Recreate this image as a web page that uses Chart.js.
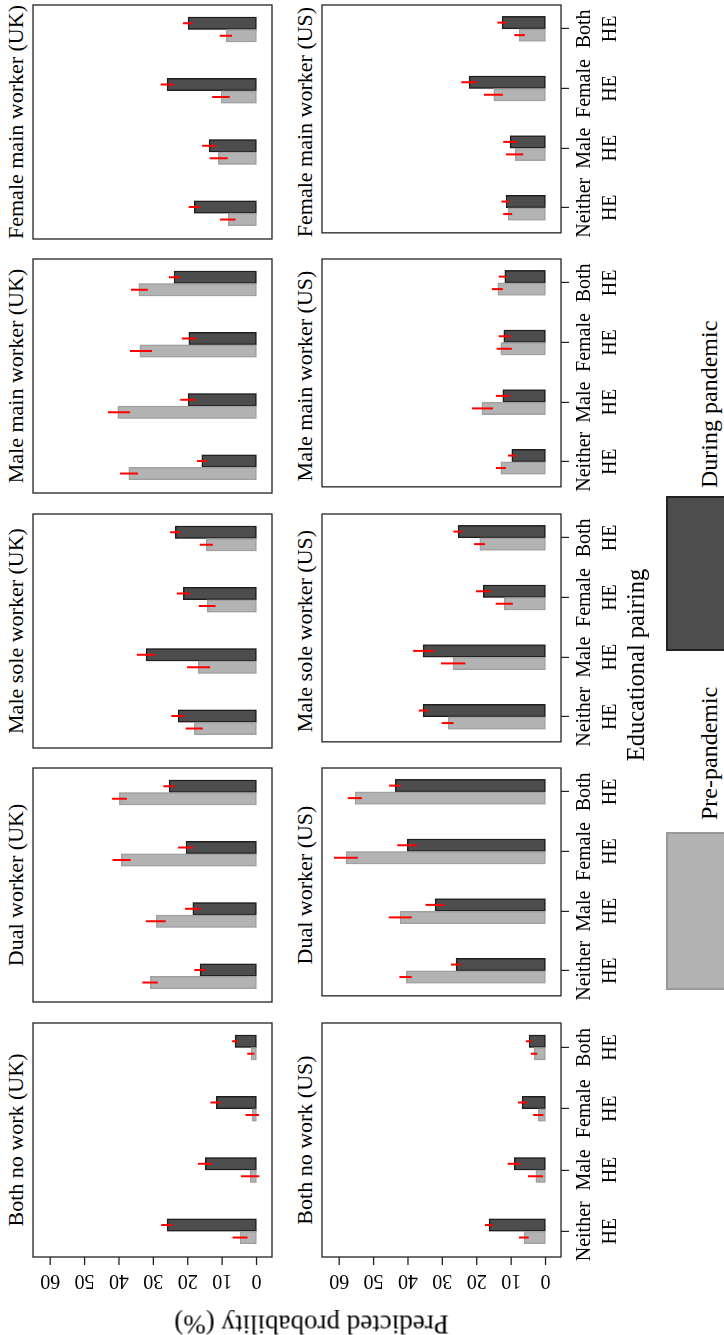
<!DOCTYPE html>
<html>
<head>
<meta charset="utf-8">
<script src="https://cdn.jsdelivr.net/npm/chart.js@4.4.1/dist/chart.umd.min.js"></script>
<style>
  html, body { margin: 0; padding: 0; background: #fff; }
  body { width: 724px; height: 1335px; overflow: hidden; position: relative; }
  /* the figure is laid out landscape and turned a quarter turn, like the source */
  #fig {
    position: absolute; left: 0; top: 0; width: 1335px; height: 724px;
    transform-origin: 0 0; transform: translate(0, 1335px) rotate(-90deg);
    font-family: 'Liberation Serif', 'Times New Roman', serif; color: #000;
  }
  #fig canvas { position: absolute; }
  .title { position: absolute; width: 300px; text-align: center; font-size: 22px; line-height: 22px; white-space: nowrap; }
  .lab { position: absolute; white-space: nowrap; }
  .key { position: absolute; box-sizing: border-box; }
</style>
</head>
<body>
<div id="fig"></div>
<script>
const categories = [['Neither', 'HE'], ['Male', 'HE'], ['Female', 'HE'], ['Both', 'HE']];
const panels = ['Both no work', 'Dual worker', 'Male sole worker', 'Male main worker', 'Female main worker'];
const countries = ['UK', 'US'];
const valueTicks = [0, 10, 20, 30, 40, 50, 60];
const seriesNames = ['Pre-pandemic', 'During pandemic'];

// one row per panel, columns = Neither / Male / Female / Both HE
const ukPre = [
  [4.8, 1.8, 1.3, 1.6],
  [30.9, 29.1, 39.3, 39.9],
  [18.1, 16.9, 14.3, 14.6],
  [37.1, 40.3, 33.9, 34.2],
  [8.2, 11.1, 10.3, 8.8]
];
const ukPreLo = [
  [2.6, -0.8, -0.7, 0.6],
  [28.7, 26.4, 36.6, 37.7],
  [15.6, 13.5, 11.9, 12.7],
  [34.5, 36.8, 30.4, 31.6],
  [6.1, 8.4, 7.8, 7.1]
];
const ukPreHi = [
  [7.0, 4.5, 3.2, 2.7],
  [33.2, 32.2, 41.9, 42.0],
  [20.6, 20.2, 16.8, 16.5],
  [39.7, 43.2, 36.8, 36.5],
  [10.6, 13.6, 12.9, 10.7]
];
const ukDuring = [
  [26.0, 14.9, 11.7, 6.2],
  [16.4, 18.5, 20.5, 25.4],
  [22.8, 32.1, 21.3, 23.6],
  [15.9, 19.9, 19.7, 24.0],
  [18.1, 13.8, 26.0, 19.9]
];
const ukDuringLo = [
  [24.4, 13.0, 10.5, 5.5],
  [14.7, 16.3, 18.4, 23.8],
  [20.9, 29.5, 19.4, 22.2],
  [14.4, 17.9, 17.6, 22.3],
  [16.5, 11.8, 24.0, 18.6]
];
const ukDuringHi = [
  [27.7, 17.0, 13.4, 7.1],
  [18.1, 20.8, 22.8, 27.1],
  [24.8, 34.8, 23.2, 25.1],
  [17.3, 22.2, 21.7, 25.5],
  [19.7, 15.8, 27.9, 21.4]
];
const usPre = [
  [6.2, 2.8, 2.1, 3.3],
  [40.5, 42.3, 58.0, 55.4],
  [28.3, 26.9, 12.0, 19.1],
  [13.0, 18.5, 13.0, 13.9],
  [10.9, 8.8, 15.0, 7.7]
];
const usPreLo = [
  [4.9, 0.7, 0.6, 2.4],
  [38.9, 38.9, 54.6, 53.4],
  [26.7, 23.3, 9.5, 17.6],
  [11.5, 15.3, 9.8, 12.4],
  [9.7, 6.5, 12.4, 6.0]
];
const usPreHi = [
  [7.7, 5.1, 3.6, 4.3],
  [42.5, 45.6, 61.5, 57.5],
  [30.2, 30.4, 14.5, 20.8],
  [14.4, 21.4, 14.2, 15.6],
  [12.3, 11.5, 17.9, 9.1]
];
const usDuring = [
  [16.4, 9.1, 6.8, 4.8],
  [26.0, 32.1, 40.2, 43.7],
  [35.6, 35.6, 18.1, 25.4],
  [9.8, 12.4, 12.1, 11.8],
  [11.5, 10.3, 22.2, 12.6]
];
const usDuringLo = [
  [15.4, 7.3, 5.3, 4.1],
  [24.6, 29.4, 37.4, 42.1],
  [34.1, 32.5, 16.0, 24.2],
  [8.6, 10.4, 10.1, 11.2],
  [10.6, 8.3, 20.0, 11.3]
];
const usDuringHi = [
  [17.6, 11.0, 8.0, 5.7],
  [27.5, 34.9, 43.1, 45.5],
  [36.9, 38.5, 20.2, 26.8],
  [10.9, 14.4, 13.6, 13.6],
  [12.8, 12.3, 24.5, 14.0]
];

const preFill = '#b3b3b3', preLine = '#a0a0a0';
const durFill = '#4d4d4d', durLine = '#1e1e1e';
const serif = "'Liberation Serif', 'Times New Roman', serif";

// panel boxes in the landscape frame
const boxLeft = [78, 333, 587, 842, 1096];
const boxTop = [33, 322];
const boxW = 234, boxH = 239;
const axisH = 72;

const fig = document.getElementById('fig');

const panelDecor = {
  id: 'panelDecor',
  afterDatasetsDraw(chart, args, opts) {
    const { ctx, chartArea: a, scales: { y } } = chart;
    ctx.save();
    // confidence intervals
    ctx.strokeStyle = '#ff0000';
    ctx.lineWidth = 2;
    chart.data.datasets.forEach((ds, di) => {
      chart.getDatasetMeta(di).data.forEach((bar, i) => {
        ctx.beginPath();
        ctx.moveTo(bar.x, y.getPixelForValue(ds.lo[i]));
        ctx.lineTo(bar.x, y.getPixelForValue(ds.hi[i]));
        ctx.stroke();
      });
    });
    // box
    ctx.strokeStyle = '#222';
    ctx.lineWidth = 1.3;
    ctx.strokeRect(a.left, a.top, a.width, a.height);
    // value axis with turned labels, only on first column
    if (opts.valueAxis) {
      ctx.fillStyle = '#000';
      ctx.font = '20px ' + serif;
      ctx.textAlign = 'center';
      ctx.textBaseline = 'alphabetic';
      valueTicks.forEach(v => {
        const py = y.getPixelForValue(v);
        ctx.beginPath();
        ctx.moveTo(a.left, py);
        ctx.lineTo(a.left - 8, py);
        ctx.stroke();
        ctx.save();
        ctx.translate(a.left - 18, py);
        ctx.rotate(-Math.PI / 2);
        ctx.fillText(String(v), 0, 0);
        ctx.restore();
      });
    }
    ctx.restore();
  }
};

countries.forEach((country, r) => {
  const pre = r === 0 ? ukPre : usPre;
  const preLo = r === 0 ? ukPreLo : usPreLo;
  const preHi = r === 0 ? ukPreHi : usPreHi;
  const dur = r === 0 ? ukDuring : usDuring;
  const durLo = r === 0 ? ukDuringLo : usDuringLo;
  const durHi = r === 0 ? ukDuringHi : usDuringHi;

  panels.forEach((name, c) => {
    const padL = c === 0 ? boxLeft[0] : 2;
    const bottomH = r === 1 ? axisH : 2;
    const canvas = document.createElement('canvas');
    canvas.width = padL + boxW + 2;
    canvas.height = 2 + boxH + bottomH;
    canvas.style.left = (boxLeft[c] - padL) + 'px';
    canvas.style.top = (boxTop[r] - 2) + 'px';
    fig.appendChild(canvas);

    const title = document.createElement('div');
    title.className = 'title';
    title.textContent = name + ' (' + country + ')';
    title.style.left = (boxLeft[c] + boxW / 2 - 150) + 'px';
    title.style.top = (boxTop[r] - 28.5) + 'px';
    fig.appendChild(title);

    new Chart(canvas, {
      type: 'bar',
      data: {
        datasets: [
          {
            label: seriesNames[0],
            data: pre[c].map((v, i) => ({ x: i, y: v })),
            lo: preLo[c], hi: preHi[c],
            backgroundColor: preFill, borderColor: preLine
          },
          {
            label: seriesNames[1],
            data: dur[c].map((v, i) => ({ x: i, y: v })),
            lo: durLo[c], hi: durHi[c],
            backgroundColor: durFill, borderColor: durLine
          }
        ]
      },
      options: {
        responsive: false,
        animation: false,
        events: [],
        layout: { autoPadding: false, padding: { left: padL, right: 2, top: 2, bottom: r === 1 ? 0 : 2 } },
        datasets: { bar: { barThickness: 12.5, borderWidth: 1.5, borderSkipped: false, grouped: true } },
        scales: {
          x: {
            type: 'linear',
            min: -0.42, max: 3.40,
            offset: false,
            display: r === 1,
            afterBuildTicks: s => { s.ticks = categories.map((_, i) => ({ value: i })); },
            afterFit: s => { s.height = r === 1 ? axisH : 0; },
            ticks: {
              autoSkip: false, maxRotation: 0, padding: 3, color: '#000',
              font: { family: serif, size: 20, lineHeight: 1.3 },
              callback: v => categories[v]
            },
            grid: { drawOnChartArea: false, drawTicks: true, tickLength: 8, color: '#222', lineWidth: 1.2, offset: false },
            border: { display: false }
          },
          y: {
            min: -4.5, max: 65,
            display: false,
            afterBuildTicks: s => { s.ticks = valueTicks.map(v => ({ value: v })); },
            afterFit: s => { s.width = 0; }
          }
        },
        plugins: {
          legend: { display: false },
          tooltip: { enabled: false },
          panelDecor: { valueAxis: c === 0 }
        }
      },
      plugins: [panelDecor]
    });
  });
});

// axis titles
const yTitle = document.createElement('div');
yTitle.className = 'lab';
yTitle.textContent = 'Predicted probability (%)';
Object.assign(yTitle.style, {
  fontSize: '27px', lineHeight: '27px', width: '400px', textAlign: 'center',
  left: (11 - 200) + 'px', top: (311 - 13.5) + 'px', transform: 'rotate(-90deg)'
});
fig.appendChild(yTitle);

const xTitle = document.createElement('div');
xTitle.className = 'lab';
xTitle.textContent = 'Educational pairing';
Object.assign(xTitle.style, {
  fontSize: '24.5px', lineHeight: '24.5px', width: '400px', textAlign: 'center',
  left: (670 - 200) + 'px', top: (644 - 20.5) + 'px'
});
fig.appendChild(xTitle);

// legend
const keys = [
  { left: 345, width: 158, fill: preFill, line: '#999', text: seriesNames[0], textLeft: 515 },
  { left: 684, width: 155, fill: durFill, line: '#222', text: seriesNames[1], textLeft: 847 }
];
keys.forEach(k => {
  const box = document.createElement('div');
  box.className = 'key';
  Object.assign(box.style, {
    left: k.left + 'px', top: '666px', width: k.width + 'px', height: '80px',
    background: k.fill, border: '2px solid ' + k.line
  });
  fig.appendChild(box);
  const t = document.createElement('div');
  t.className = 'lab';
  t.textContent = k.text;
  Object.assign(t.style, { fontSize: '24px', lineHeight: '24px', left: k.textLeft + 'px', top: (717 - 20) + 'px' });
  fig.appendChild(t);
});
</script>
</body>
</html>
